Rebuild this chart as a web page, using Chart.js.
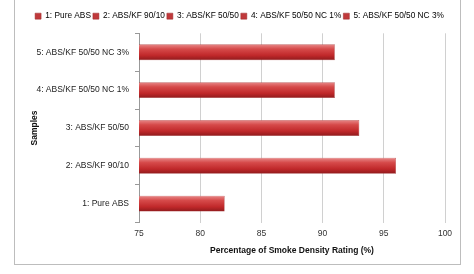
<!DOCTYPE html>
<html><head><meta charset="utf-8">
<script src="https://cdn.jsdelivr.net/npm/chart.js@4"></script>
<style>
html,body{margin:0;padding:0;background:#fff;width:474px;height:274px;overflow:hidden}
#frame{position:absolute;left:14px;top:-2px;width:447px;height:267px;border:1px solid #bdbdbd;box-sizing:border-box}
#wrap{position:absolute;left:0;top:0;width:474px;height:274px}
</style></head><body>
<div id="frame"></div>
<div id="wrap"><canvas id="c" width="474" height="274"></canvas></div>
<script>
const categories = ["5: ABS/KF 50/50 NC 3%", "4: ABS/KF 50/50 NC 1%", "3: ABS/KF 50/50", "2: ABS/KF 90/10", "1: Pure ABS"];
const values = [91, 91, 93, 96, 82];
const legendLabels = ["1: Pure ABS", "2: ABS/KF 90/10", "3: ABS/KF 50/50", "4: ABS/KF 50/50 NC 1%", "5: ABS/KF 50/50 NC 3%"];
const xTicks = [75, 80, 85, 90, 95, 100];

const FONT = "'Liberation Sans', Arial, sans-serif";
function barFill(ctx) {
  const chart = ctx.chart;
  const y = chart.scales && chart.scales.y;
  if (!y || y.top === undefined || ctx.dataIndex === undefined) return '#c0393b';
  const c = y.getPixelForValue(ctx.dataIndex);
  const g = chart.ctx.createLinearGradient(0, c - 8, 0, c + 8);
  g.addColorStop(0, '#e88a8a');
  g.addColorStop(0.3, '#d64a4a');
  g.addColorStop(0.7, '#c0282a');
  g.addColorStop(1, '#8e1a1c');
  return g;
}
const legendTweak = {
  id: 'legendTweak',
  beforeLayout(chart) {
    const lg = chart.legend;
    if (lg && !lg._patched) {
      const f = lg.fit.bind(lg);
      lg.fit = function () { f(); this.height += 3; };
      lg._patched = true;
    }
  },
  afterLayout(chart) {
    const lg = chart.legend;
    if (lg) { lg.left += 8; lg.right += 8; }
  }
};
new Chart(document.getElementById('c'), {
  type: 'bar',
  data: {
    labels: categories,
    datasets: [{
      data: values,
      backgroundColor: barFill,
      borderColor: '#9a2a2a',
      borderWidth: 0.5,
      barPercentage: 0.42,
      categoryPercentage: 1
    }]
  },
  plugins: [legendTweak],
  options: {
    indexAxis: 'y',
    responsive: false,
    animation: false,
    layout: { padding: { left: 18, right: 29, top: 10, bottom: 18 } },
    plugins: {
      tooltip: { enabled: false },
      legend: {
        display: true,
        position: 'top',
        labels: {
          font: { family: FONT, size: 8.3 },
          color: '#222',
          boxWidth: 6, boxHeight: 6,
          padding: 2,
          generateLabels: () => legendLabels.map((t) => ({
            text: t, fillStyle: '#c0393b', strokeStyle: '#9a2a2a', lineWidth: 0.5, hidden: false
          }))
        }
      }
    },
    scales: {
      x: {
        min: 75, max: 100,
        afterBuildTicks: (s) => { s.ticks = xTicks.map(v => ({ value: v })); },
        grid: { color: '#d0d0d0', drawTicks: false },
        border: { display: false },
        ticks: { font: { family: FONT, size: 8.5 }, color: '#333', padding: 6 },
        title: { display: true, text: 'Percentage of Smoke Density Rating (%)', font: { family: FONT, size: 8.5, weight: 'bold' }, color: '#111', padding: { top: 1, bottom: 0 } }
      },
      y: {
        afterFit: (s) => { s.width = 121; },
        grid: { offset: true, drawOnChartArea: false, tickLength: 4, color: '#999' },
        border: { display: true, color: '#999' },
        ticks: { font: { family: FONT, size: 8.5 }, color: '#222', padding: 6 },
        title: { display: true, text: 'Samples', font: { family: FONT, size: 8.5, weight: 'bold' }, color: '#111', padding: { top: 12, bottom: 0 } }
      }
    }
  }
});
</script>
</body></html>
